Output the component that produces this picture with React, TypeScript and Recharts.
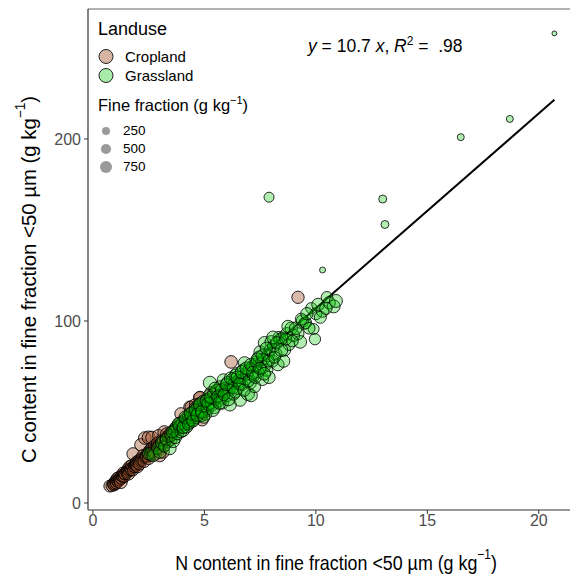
import {
  ReferenceLine,
  Scatter,
  ScatterChart,
  XAxis,
  YAxis,
  ZAxis,
} from "recharts";

// values: N (g/kg), C (g/kg), fine fraction (g/kg)
const croplandN = [
  0.76, 0.85, 0.9, 0.95, 1.0, 1.0, 1.05, 1.08, 1.1, 1.12,
  1.15, 1.18, 1.2, 1.22, 1.25, 1.28, 1.3, 1.33, 1.35, 1.38,
  1.4, 1.42, 1.45, 1.5, 1.52, 1.55, 1.58, 1.6, 1.62, 1.65,
  1.68, 1.7, 1.72, 1.75, 1.78, 1.8, 1.8, 1.85, 1.88, 1.9,
  1.92, 1.95, 1.97, 2.0, 2.02, 2.05, 2.08, 2.1, 2.15, 2.15,
  2.18, 2.2, 2.25, 2.28, 2.3, 2.33, 2.35, 2.4, 2.42, 2.45,
  2.48, 2.5, 2.5, 2.55, 2.58, 2.6, 2.62, 2.65, 2.65, 2.68,
  2.7, 2.75, 2.78, 2.8, 2.85, 2.88, 2.9, 2.9, 2.95, 2.95,
  3.0, 3.0, 3.05, 3.08, 3.1, 3.15, 3.15, 3.2, 3.2, 3.25,
  3.3, 3.3, 3.35, 3.4, 3.45, 3.5, 3.55, 3.6, 3.7, 3.8,
  3.9, 3.95, 4.0, 4.1, 4.3, 4.35, 4.4, 4.5, 4.6, 4.8,
  4.8, 4.9, 5.0, 5.3, 5.3, 5.6, 6.2, 9.2,
];
const croplandC = [
  9.3, 9.5, 10.5, 10, 12, 10.8, 11, 12.2, 13.5, 11.6,
  14, 13, 12.8, 13.8, 11.5, 13.4, 15, 14.6, 16.5, 15.2,
  14.5, 15.8, 16.2, 17, 16.6, 18.5, 17.4, 16, 17.8, 20,
  18.6, 19, 18.2, 20.5, 19.6, 18, 27, 20.2, 19.8, 21,
  21.6, 22.5, 21, 20, 22, 23.5, 22.8, 21.5, 23.4, 32,
  24.6, 24, 26, 24.8, 23, 35.7, 25.2, 25.5, 26.2, 27.5,
  26.8, 24.5, 36, 29, 27.6, 26.5, 28.4, 30, 36, 29.2,
  28, 31, 29.8, 27, 30, 31.2, 33, 33, 31.8, 37,
  29.5, 26, 32, 33, 34.5, 33.8, 28, 31.5, 39, 34.8,
  36, 38, 33.5, 36.5, 38, 35, 37.5, 39.5, 41, 40.5,
  44, 49, 43, 45.5, 45, 52.7, 52.7, 48, 54, 57.7,
  58, 45.6, 50, 57, 60.4, 62, 77.5, 113,
];
const croplandFF = [
  750, 700, 650, 800, 700, 850, 750, 700, 800, 650,
  700, 800, 750, 650, 900, 700, 800, 750, 700, 850,
  750, 700, 800, 650, 750, 700, 850, 800, 700, 750,
  800, 700, 750, 850, 700, 650, 800, 750, 700, 800,
  750, 700, 850, 800, 750, 650, 700, 800, 750, 800,
  700, 750, 800, 650, 850, 850, 700, 750, 800, 700,
  750, 800, 900, 700, 750, 800, 650, 850, 850, 750,
  700, 800, 750, 850, 700, 750, 800, 700, 650, 800,
  750, 800, 700, 850, 750, 700, 800, 750, 850, 700,
  800, 750, 700, 850, 750, 800, 700, 850, 750, 800,
  750, 800, 850, 700, 800, 800, 750, 700, 800, 850,
  800, 750, 800, 750, 850, 800, 850, 800,
];

const grasslandN = [
  2.5, 2.7, 2.9, 3.0, 3.1, 3.2, 3.3, 3.45, 3.5, 3.6, 3.65, 3.7, 3.75, 3.8, 3.9, 3.95,
  4.0, 4.05, 4.1, 4.15, 4.2, 4.25, 4.3, 4.35, 4.4, 4.45, 4.5, 4.55, 4.6, 4.65, 4.7, 4.75,
  4.8, 4.85, 4.9, 4.95, 5.0, 5.05, 5.1, 5.15, 5.2, 5.25, 5.3, 5.35, 5.4, 5.45, 5.5, 5.55,
  5.6, 5.65, 5.7, 5.75, 5.8, 5.85, 5.9, 5.95, 6.0, 6.05, 6.1, 6.15, 6.2, 6.25, 6.3, 6.35,
  6.4, 6.45, 6.5, 6.55, 6.6, 6.65, 6.7, 6.75, 6.8, 6.85, 6.9, 6.95, 7.0, 7.05, 7.1, 7.15,
  7.2, 7.25, 7.3, 7.35, 7.4, 7.45, 7.5, 7.55, 7.6, 7.65, 7.7, 7.75, 7.8, 7.85, 7.9, 7.95,
  8.0, 8.05, 8.1, 8.2, 8.3, 8.35, 8.4, 8.5, 8.55, 8.6, 8.7, 8.8, 8.9, 9.0, 9.2, 9.3,
  9.4, 9.5, 9.55, 9.8, 9.9, 9.96, 10.0, 10.3, 10.5, 10.6, 10.8, 10.3, 7.9, 13.0, 13.1, 16.5,
  18.7, 20.7,
  3.55, 3.85, 4.05, 4.15, 4.28, 4.38, 4.48, 4.58, 4.68, 4.78,
  4.88, 4.98, 5.08, 5.18, 5.28, 5.38, 5.48, 5.58, 5.68, 5.78,
  5.88, 5.98, 6.08, 6.18, 6.28, 6.38, 6.48, 6.58, 6.68, 6.78,
  6.88, 6.98, 7.08, 7.18, 7.28, 7.38, 7.48, 7.58, 7.68, 7.78,
  7.88, 8.08, 8.15, 8.25, 8.45, 8.65, 8.75, 8.95, 9.1, 9.35,
  9.6, 9.7, 10.1, 10.2, 10.45, 10.9,
];
const grasslandC = [
  27, 26, 30, 28, 33, 31, 35, 30, 37, 34, 40, 36, 41.8, 38, 42, 39,
  44, 40, 43, 46, 42, 45, 48, 44, 47, 50, 46, 49, 52, 47, 53, 50,
  55, 48, 51, 56, 53, 49, 57, 52, 59, 66, 55, 54, 60, 52.7, 57, 62,
  56, 59, 64, 58, 55, 67.6, 61, 63, 59, 66, 62, 54, 64, 68, 60, 66,
  70, 71, 63, 67, 56.6, 69, 65, 73, 77, 68, 71, 60, 73, 66, 59, 75,
  70, 64, 76, 77.5, 72, 80, 83, 74, 68, 79, 88, 76, 73, 81, 69, 84,
  88.5, 78, 86, 82, 76, 91, 89.6, 90.6, 78, 84, 93, 87, 96, 92, 93, 88.5,
  100, 98.7, 99, 107, 95.6, 90, 104, 105.5, 113, 110, 108, 128, 168, 167, 153, 201,
  211, 258,
  39, 43.5, 41.5, 47, 43.2, 49, 45, 51, 48.4, 54,
  50, 47, 56, 54.5, 58, 51, 63, 58.5, 55, 62,
  59.5, 65, 57, 68.5, 63, 61, 69, 65.5, 72, 62,
  74, 67, 76, 71.5, 69, 79, 74, 81, 71, 85,
  78, 91, 80, 88, 84, 90, 97, 89, 96, 101,
  104, 96, 109, 102, 107, 111,
];
const grasslandFF = [
  750, 800, 700, 850, 900, 650, 800, 850, 750, 900, 700, 800, 850, 750, 900, 700,
  800, 850, 700, 750, 900, 800, 850, 650, 800, 750, 900, 700, 850, 800, 750, 900,
  650, 800, 850, 750, 800, 900, 700, 850, 750, 950, 800, 850, 700, 900, 800, 750,
  850, 800, 700, 900, 850, 800, 750, 850, 800, 900, 700, 850, 800, 750, 900, 800,
  850, 800, 750, 900, 850, 800, 700, 850, 800, 750, 900, 950, 800, 850, 800, 750,
  850, 800, 900, 800, 750, 850, 800, 750, 850, 800, 850, 750, 800, 850, 800, 750,
  850, 800, 750, 850, 800, 750, 850, 800, 850, 750, 800, 700, 850, 800, 750, 850,
  800, 750, 700, 650, 600, 650, 750, 850, 700, 800, 900, 75, 480, 250, 250, 160,
  160, 0,
  750, 850, 800, 900, 700, 850, 800, 750, 900, 800,
  850, 700, 800, 900, 750, 850, 800, 700, 900, 850,
  750, 800, 900, 850, 700, 800, 850, 750, 900, 800,
  850, 700, 800, 900, 750, 850, 800, 700, 850, 800,
  750, 850, 700, 800, 900, 750, 800, 700, 850, 750,
  800, 700, 850, 750, 800, 900,
];

const landuseNames = ["Cropland", "Grassland"];
const sizeBreaks = [250, 500, 750];
const nTicks = [0, 5, 10, 15, 20];
const cTicks = [0, 100, 200];
const slope = 10.7;
const r2Label = ".98";

const cropColor = "#A0522D";
const grassColor = "#00C400";

const cropData = croplandN.map((n, i) => ({ n, c: croplandC[i], ff: croplandFF[i] }));
const grassData = grasslandN.map((n, i) => ({ n, c: grasslandC[i], ff: grasslandFF[i] }));
const allN = [...croplandN, ...grasslandN];
const nMin = Math.min(...allN);
const nMax = Math.max(...allN);

const tickFont = "'Liberation Sans', Arial, sans-serif";

// size scale: symbol area linear in fine fraction
const ffDomain: [number, number] = [0, 1000];
const areaRange: [number, number] = [18.5, 144.5];
const radiusFor = (ff: number) => {
  const a = areaRange[0] + ((ff - ffDomain[0]) / (ffDomain[1] - ffDomain[0])) * (areaRange[1] - areaRange[0]);
  return Math.sqrt(a / Math.PI);
};

function LegendBox() {
  return (
    <div style={{ fontFamily: tickFont, color: "#000", lineHeight: 1 }}>
      <div style={{ fontSize: 18, marginBottom: 9 }}>Landuse</div>
      {landuseNames.map((name, i) => (
        <div key={name} style={{ display: "flex", alignItems: "center", height: 19 }}>
          <svg width={20} height={19}>
            <circle
              cx={8}
              cy={9.5}
              r={7}
              fill={i === 0 ? "#D7B4A4" : "#A9EBA9"}
              stroke="#222"
              strokeWidth={1}
            />
          </svg>
          <span style={{ fontSize: 15, marginLeft: 7 }}>{name}</span>
        </div>
      ))}
      <div style={{ fontSize: 16.5, marginTop: 10, marginBottom: 9 }}>
        Fine fraction (g kg<sup style={{ fontSize: 11 }}>−1</sup>)
      </div>
      {sizeBreaks.map((b) => (
        <div key={b} style={{ display: "flex", alignItems: "center", height: 18 }}>
          <svg width={20} height={18}>
            <circle cx={8} cy={9} r={radiusFor(b)} fill="#9A9A9A" />
          </svg>
          <span style={{ fontSize: 13.5, marginLeft: 5 }}>{b}</span>
        </div>
      ))}
    </div>
  );
}

function AxisTitle({ x, y, rotate, squeeze, children }: any) {
  return (
    <text
      transform={`translate(${x}, ${y}) rotate(${rotate}) scale(${squeeze}, 1)`}
      textAnchor="middle"
      dominantBaseline="central"
      fontFamily={tickFont}
      fontSize={21}
      fill="#000"
    >
      {children} (g kg
      <tspan fontSize={14} dy={-8}>−1</tspan>
      <tspan dy={8}>)</tspan>
    </text>
  );
}

function YTitle({ viewBox }: any) {
  return (
    <AxisTitle x={28} y={viewBox.y + viewBox.height / 2 + 20} rotate={-90} squeeze={0.97}>
      C content in fine fraction &lt;50 µm
    </AxisTitle>
  );
}

function XTitle({ viewBox }: any) {
  return (
    <AxisTitle x={viewBox.x + viewBox.width / 2 + 7} y={562} rotate={0} squeeze={0.85}>
      N content in fine fraction &lt;50 µm
    </AxisTitle>
  );
}

export default function App() {
  return (
    <div style={{ position: "absolute", left: 0, top: 0, width: 571, height: 575, background: "#fff" }}>
      <ScatterChart width={571} height={575} margin={{ top: 9, right: 1, bottom: 0, left: 0 }}>
        <XAxis
          type="number"
          dataKey="n"
          domain={[-0.22, 21.4]}
          allowDataOverflow
          ticks={nTicks}
          tickSize={4}
          tickMargin={1}
          height={65}
          axisLine={{ stroke: "#333", strokeWidth: 1.2 }}
          tickLine={{ stroke: "#333" }}
          tick={{ fill: "#4D4D4D", fontSize: 16, fontFamily: tickFont }}
          label={<XTitle />}
        />
        <YAxis
          type="number"
          dataKey="c"
          domain={[-3.85, 271.4]}
          allowDataOverflow
          ticks={cTicks}
          tickSize={4}
          tickMargin={3}
          width={88}
          axisLine={{ stroke: "#333", strokeWidth: 1.2 }}
          tickLine={{ stroke: "#333" }}
          tick={{ fill: "#4D4D4D", fontSize: 16, fontFamily: tickFont }}
          label={<YTitle />}
        />
        <ZAxis type="number" dataKey="ff" domain={ffDomain} range={areaRange} />
        <ReferenceLine y={271.4} stroke="#666" strokeWidth={1} ifOverflow="visible" />
        <Scatter
          name="Cropland"
          data={cropData}
          fill={cropColor}
          fillOpacity={0.4}
          stroke="#000"
          strokeOpacity={0.85}
          strokeWidth={1}
          isAnimationActive={false}
        />
        <Scatter
          name="Grassland"
          data={grassData}
          fill={grassColor}
          fillOpacity={0.3}
          stroke="#000"
          strokeOpacity={0.8}
          strokeWidth={1}
          isAnimationActive={false}
        />
        <ReferenceLine
          segment={[
            { x: nMin, y: slope * nMin },
            { x: nMax, y: slope * nMax },
          ]}
          stroke="#000"
          strokeWidth={2}
        />
      </ScatterChart>
      <div style={{ position: "absolute", left: 98, top: 20 }}>
        <LegendBox />
      </div>
      <div
        style={{
          position: "absolute",
          left: 308,
          top: 34,
          fontFamily: tickFont,
          fontSize: 17.5,
          color: "#000",
          whiteSpace: "nowrap",
        }}
      >
        <i>y</i> = 10.7 <i>x</i>, <i>R</i>
        <sup style={{ fontSize: 12 }}>2</sup> = &nbsp;{r2Label}
      </div>
    </div>
  );
}
